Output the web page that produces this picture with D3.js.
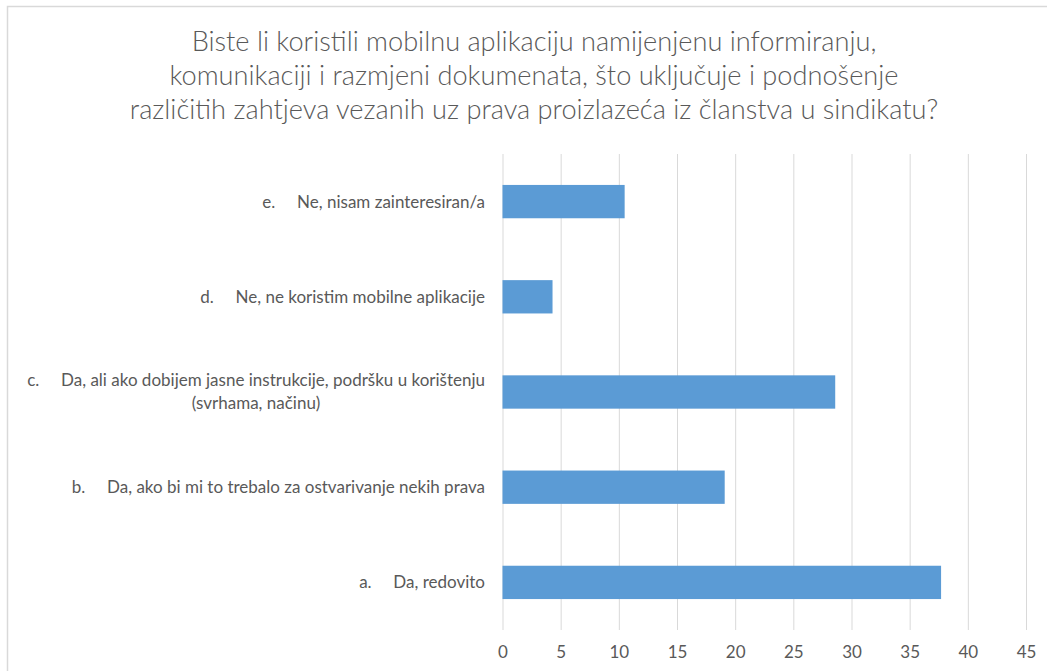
<!DOCTYPE html>
<html lang="hr">
<head>
  <meta charset="UTF-8">
  <script src="https://cdn.jsdelivr.net/npm/d3@7"></script>
  <title>Mobilna aplikacija</title>
  <style>
    body { margin: 0; background: #fff; }
    text { font-family: Lato, "Open Sans", sans-serif; fill: #595959; white-space: pre; }
  </style>
</head>
<body>
  <script>
    const width = 1047, height = 671
    const margin = ({top: 154, right: 21, bottom: 41, left: 502.5})

    // categories from top to bottom, each label split in lines
    const categories = ['e', 'd', 'c', 'b', 'a']
    const labels = [
      ['e.     Ne, nisam zainteresiran/a'],
      ['d.     Ne, ne koristim mobilne aplikacije'],
      ['c.     Da, ali ako dobijem jasne instrukcije, podršku u korištenju', '(svrhama, načinu)'],
      ['b.     Da, ako bi mi to trebalo za ostvarivanje nekih prava'],
      ['a.     Da, redovito']
    ]
    const values = [10.5, 4.3, 28.6, 19.1, 37.7]
    const ticks = [0, 5, 10, 15, 20, 25, 30, 35, 40, 45]
    const titleLines = [
      'Biste li koristili mobilnu aplikaciju namijenjenu informiranju,',
      'komunikaciji i razmjeni dokumenata, što uključuje i podnošenje',
      'različitih zahtjeva vezanih uz prava proizlazeća iz članstva u sindikatu?'
    ]

    const svg = d3.select('body').append('svg')
        .attr('width', width)
        .attr('height', height)

    // chart frame
    svg.append('rect')
        .attr('x', 7.5).attr('y', 6.5)
        .attr('width', width).attr('height', height)
        .attr('fill', 'none')
        .attr('stroke', '#d9d9d9')
        .attr('stroke-width', 1.5)

    svg.append('g').selectAll('text')
      .data(titleLines)
      .join('text')
        .attr('x', 534)
        .attr('y', (d, i) => 51 + i * 34)
        .attr('text-anchor', 'middle')
        .style('font-size', '27.2px')
        .style('font-weight', 300)
        .text(d => d)

    const x = d3.scaleLinear()
        .domain([0, 45])
        .range([margin.left, width - margin.right])

    const y = d3.scaleBand()
        .domain(categories)
        .range([margin.top, height - margin.bottom])
        .paddingInner(0.65)
        .paddingOuter(0.325)

    // gridlines
    svg.append('g')
        .attr('transform', `translate(0,${height - margin.bottom})`)
        .call(d3.axisBottom(x).tickValues(ticks)
          .tickSize(-(height - margin.bottom - margin.top))
          .tickPadding(16))
        .call(g => g.select('.domain').remove())
        .call(g => g.selectAll('.tick line').attr('stroke', '#d9d9d9'))
        .call(g => g.selectAll('.tick text')
          .style('font-size', '17px')
          .style('font-family', 'Lato, sans-serif')
          .attr('fill', '#595959'))

    svg.append('g').selectAll('rect')
      .data(values)
      .join('rect')
        .attr('x', x(0))
        .attr('y', (d, i) => y(categories[i]))
        .attr('width', d => x(d) - x(0))
        .attr('height', y.bandwidth())
        .attr('fill', '#5b9bd5')

    // category labels: right aligned block, lines centered within it
    const lab = svg.append('g').selectAll('g')
      .data(labels)
      .join('g')

    lab.each(function (lines, i) {
      const g = d3.select(this)
      const cy = y(categories[i]) + y.bandwidth() / 2
      const lh = 23
      const t = g.selectAll('text')
        .data(lines)
        .join('text')
          .attr('y', (d, j) => cy + (j - (lines.length - 1) / 2) * lh)
          .attr('dy', '0.35em')
          .style('font-size', '17px')
          .text(d => d)
      const widths = t.nodes().map(n => n.getComputedTextLength())
      const w = d3.max(widths)
      const right = 485
      t.attr('text-anchor', 'middle').attr('x', right - w / 2)
    })
  </script>
</body>
</html>
